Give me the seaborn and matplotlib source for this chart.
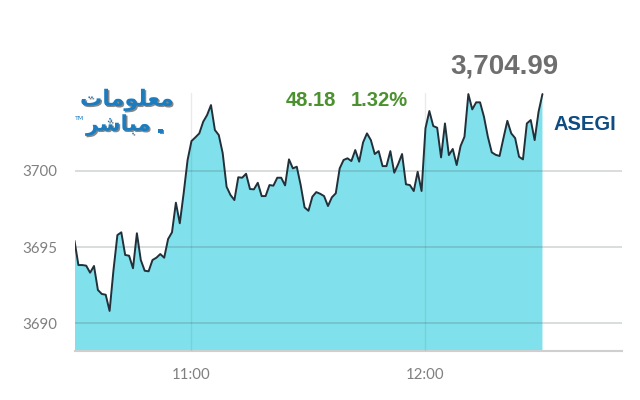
import pandas as pd
import matplotlib
matplotlib.use("Agg")
import matplotlib.pyplot as plt
import matplotlib.patheffects as pe
import seaborn as sns

# Minutes since 10:30, one price per minute
minutes = list(range(121))
prices = [
    3695.41, 3693.82, 3693.82, 3693.78, 3693.32, 3693.76, 3692.19, 3691.93, 3691.88, 3690.82,
    3693.50, 3695.78, 3695.96, 3694.48, 3694.43, 3693.61, 3695.90, 3694.15, 3693.45, 3693.41,
    3694.15, 3694.30, 3694.54, 3694.30, 3695.52, 3695.96, 3697.90, 3696.55, 3698.53, 3700.69,
    3701.93, 3702.17, 3702.43, 3703.19, 3703.63, 3704.28, 3702.65, 3702.32, 3701.14, 3698.94,
    3698.40, 3698.07, 3699.56, 3699.53, 3699.79, 3698.79, 3698.77, 3699.20, 3698.33, 3698.33,
    3699.05, 3699.01, 3699.53, 3699.53, 3699.03, 3700.73, 3700.14, 3700.25, 3699.05, 3697.59,
    3697.37, 3698.29, 3698.59, 3698.48, 3698.33, 3697.68, 3698.25, 3698.51, 3700.14, 3700.69,
    3700.80, 3700.62, 3701.34, 3700.58, 3701.84, 3702.43, 3701.99, 3701.08, 3701.27, 3700.29,
    3700.29, 3701.27, 3699.86, 3700.42, 3701.08, 3699.10, 3699.05, 3698.66, 3699.92, 3698.66,
    3702.76, 3703.89, 3702.91, 3702.80, 3700.86, 3703.08, 3701.01, 3701.41, 3700.36, 3701.60,
    3702.21, 3705.00, 3704.00, 3704.46, 3704.46, 3703.52, 3702.21, 3701.19, 3701.03, 3700.95,
    3702.12, 3703.25, 3702.43, 3702.12, 3700.90, 3700.73, 3703.08, 3703.30, 3701.99, 3703.84,
    3705.00,
]
y_ticks = [3690, 3695, 3700]
x_ticks = [30, 90]
x_labels = ["11:00", "12:00"]

last_price = "3,704.99"
change = "48.18"
change_pct = "1.32%"
index_name = "ASEGI"
# Arabic presentation forms in visual order, matplotlib does not shape Arabic
logo_top = "\uFE95\uFE8E\uFEE3\uFEEE\uFEE0\uFECC\uFEE3"
logo_bottom = "\uFEAE\uFEB7\uFE8E\uFE92\uFEE3"

df = pd.DataFrame({"minute": minutes, "price": prices})

sns.set_style("white")
plt.rcParams["font.family"] = ["Lato", "DejaVu Sans"]

W, H = 640, 400
fig = plt.figure(figsize=(6.4, 4), dpi=100, facecolor="white")
ax = fig.add_axes([74.5 / W, 1 - 351 / H, (622 - 74.5) / W, (351 - 93) / H])

# Courbe et remplissage
ax.fill_between(df["minute"], df["price"], 3600, color="#80E1EC", linewidth=0, zorder=1)
sns.lineplot(data=df, x="minute", y="price", ax=ax, color="#22303A", linewidth=1.4, zorder=3)

ax.set_xlim(0, 140.4)
ax.set_ylim(3688.2, 3705.07)
ax.set_xticks(x_ticks, x_labels)
ax.set_yticks(y_ticks, [str(v) for v in y_ticks])
ax.set_xlabel("")
ax.set_ylabel("")
ax.tick_params(axis="both", length=0, labelsize=10.8, labelcolor="#808080")
ax.tick_params(axis="x", pad=12)
ax.tick_params(axis="y", pad=12.5)

ax.set_axisbelow(False)
ax.grid(True, axis="y", color="#3A4A4A", alpha=0.22, linewidth=1.2, zorder=2)
ax.grid(True, axis="x", color="#3A4A4A", alpha=0.11, linewidth=1.0, zorder=2)
for line in ax.get_xgridlines() + ax.get_ygridlines():
    line.set_zorder(2)

sns.despine(ax=ax, left=True, right=True, top=True)
ax.spines["bottom"].set_color("#CFCFCF")
ax.spines["bottom"].set_linewidth(1.5)


def put(x, y, s, **kw):
    fig.text(x / W, 1 - y / H, s, va="center", **kw)


arial = ["Liberation Sans", "DejaVu Sans"]
put(450, 66, last_price, family=arial, fontsize=20, fontweight="bold", color="#6E6E6E")
put(286, 101, change, family=arial, fontsize=14.5, fontweight="bold", color="#4B9130")
put(351, 101, change_pct, family=arial, fontsize=14.5, fontweight="bold", color="#4B9130")
put(554, 125, index_name, family=arial, fontsize=14.5, fontweight="bold", color="#0F4C81")

# Logo
shadow = [pe.withSimplePatchShadow(offset=(1, -1), shadow_rgbFace="#555555", alpha=0.7)]
for x, y, s, size in [(80, 100, logo_top, 16), (86, 125, logo_bottom, 15.5), (156, 126, ".", 17)]:
    fig.text(x / W, 1 - y / H, s, va="center", family="DejaVu Sans", fontsize=size,
             fontweight="bold", color="#1B7CC0", path_effects=shadow)
put(75, 119, "TM", family="DejaVu Sans", fontsize=4.5, color="#1B7CC0")

fig.savefig("out.png", dpi=100)
